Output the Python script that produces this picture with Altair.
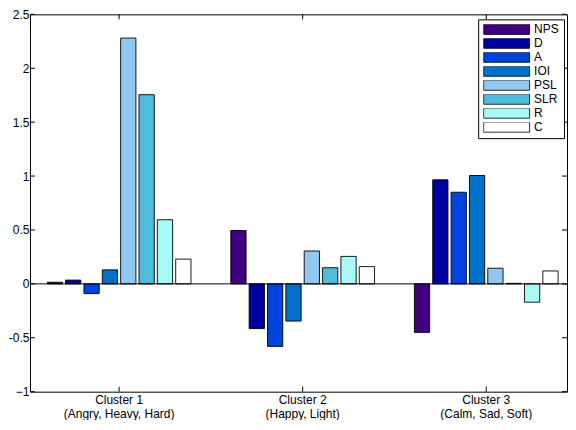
import altair as alt
import pandas as pd

series = ["NPS", "D", "A", "IOI", "PSL", "SLR", "R", "C"]
colors = ["#400080", "#0000a0", "#0044dd", "#0070c8", "#90c8f0", "#50bcdc", "#a8f8f4", "#ffffff"]
clusters = ["Cluster 1\n(Angry, Heavy, Hard)", "Cluster 2\n(Happy, Light)", "Cluster 3\n(Calm, Sad, Soft)"]
cluster1 = [0.015, 0.035, -0.09, 0.13, 2.28, 1.755, 0.595, 0.23]
cluster2 = [0.495, -0.415, -0.58, -0.345, 0.305, 0.15, 0.255, 0.16]
cluster3 = [-0.45, 0.965, 0.85, 1.005, 0.145, 0.005, -0.17, 0.12]
yticks = [-1, -0.5, 0, 0.5, 1, 1.5, 2, 2.5]

rows = []
for c, vals in zip(clusters, [cluster1, cluster2, cluster3]):
    for s, v in zip(series, vals):
        rows.append({"Cluster": c, "Series": s, "Value": v})
df = pd.DataFrame(rows)

W, H = 538, 378
font = "Liberation Sans"

xscale = alt.Scale(paddingInner=0.217, paddingOuter=0.0713, align=0.66)
xaxis = alt.Axis(title=None, labelAngle=0, ticks=False, domain=False, grid=False,
                 labelExpr="split(datum.label, '\\n')", labelFontSize=12,
                 labelLineHeight=14, labelPadding=3, labelColor="black", labelFont=font)
yscale = alt.Scale(domain=[-1, 2.5], nice=False, zero=False)
yaxis = alt.Axis(title=None, values=yticks, ticks=False, domain=False, grid=False,
                 labelExpr="datum.value == -1 ? '\u22121' : (datum.value < 0 ? '-' + toString(abs(datum.value)) : toString(datum.value))",
                 labelFontSize=12, labelPadding=1, labelColor="black", labelFont=font)

legend = alt.Legend(title=None, orient="none", legendX=449, legendY=5,
                    fillColor="white", strokeColor="black", padding=5,
                    symbolType="M-1,-0.22H1V0.22H-1Z", symbolSize=2116,
                    clipHeight=10, rowPadding=2, labelFont=font, labelFontSize=12,
                    labelColor="black", labelOffset=4, symbolStrokeColor="black",
                    symbolStrokeWidth=0.8, symbolOpacity=1, cornerRadius=0)

bars = alt.Chart(df).mark_bar(stroke="black", strokeWidth=0.9, opacity=1).encode(
    x=alt.X("Cluster:N", sort=clusters, scale=xscale, axis=xaxis),
    xOffset=alt.XOffset("Series:N", sort=series, scale=alt.Scale(paddingInner=0.168, paddingOuter=0)),
    y=alt.Y("Value:Q", scale=yscale, axis=yaxis),
    color=alt.Color("Series:N", sort=series, scale=alt.Scale(domain=series, range=colors), legend=legend),
)

zero = alt.Chart(pd.DataFrame({"Value": [0]})).mark_rule(color="black", strokeWidth=1).encode(
    y=alt.Y("Value:Q", scale=yscale, axis=yaxis)
)

tick_df = pd.DataFrame({"Value": yticks})
lticks = alt.Chart(tick_df).mark_rule(color="black", strokeWidth=1).encode(
    y=alt.Y("Value:Q", scale=yscale, axis=yaxis), x=alt.value(0), x2=alt.value(5)
)
rticks = alt.Chart(tick_df).mark_rule(color="black", strokeWidth=1).encode(
    y=alt.Y("Value:Q", scale=yscale, axis=yaxis), x=alt.value(W - 5), x2=alt.value(W)
)
cl_df = pd.DataFrame({"Cluster": clusters})
tticks = alt.Chart(cl_df).mark_rule(color="black", strokeWidth=1).encode(
    x=alt.X("Cluster:N", sort=clusters, scale=xscale, axis=xaxis), y=alt.value(0), y2=alt.value(5)
)
bticks = alt.Chart(cl_df).mark_rule(color="black", strokeWidth=1).encode(
    x=alt.X("Cluster:N", sort=clusters, scale=xscale, axis=xaxis), y=alt.value(H - 5), y2=alt.value(H)
)

chart = alt.layer(bars, zero, lticks, rticks, tticks, bticks).properties(
    width=W, height=H, padding={"left": 0, "top": 0, "right": 0, "bottom": 0},
    background="white"
).configure_view(stroke="black", strokeWidth=1)

chart.save("out.html", embed_options={"renderer": "svg", "actions": False})
